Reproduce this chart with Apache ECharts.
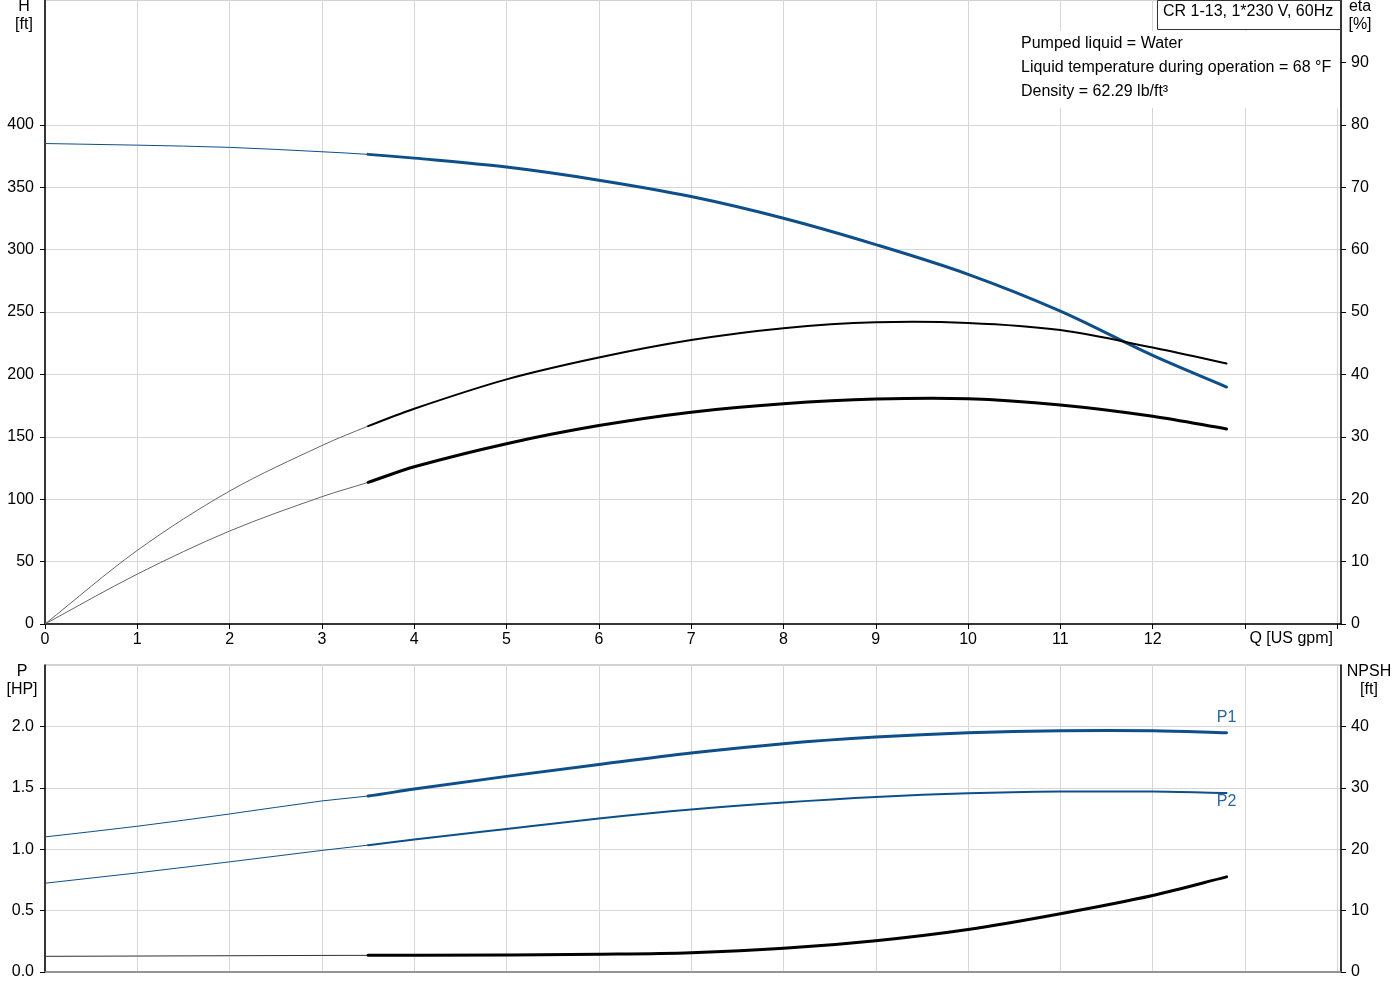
<!DOCTYPE html>
<html><head><meta charset="utf-8">
<script src="https://cdn.jsdelivr.net/npm/echarts@6/dist/echarts.min.js"></script>
<style>html,body{margin:0;padding:0;background:#fff}#c{width:1400px;height:1000px}</style>
</head><body><div id="c"></div>
<script>
// ---- data ----
const qThin  = [0, 1, 2, 3, 3.5];
const qThick = [3.5, 4, 5, 6, 7, 8, 9, 10, 11, 12, 12.8];

const headThin  = [385, 383.7, 381.9, 378.4, 376.3];
const headThick = [376.3, 373.3, 366.1, 355.6, 342.5, 325.1, 304, 280.2, 250.7, 215.2, 189.9];

const etaAThin  = [0, 11.8, 21.3, 28.6, 31.7];
const etaAThick = [31.7, 34.5, 39.2, 42.7, 45.5, 47.4, 48.35, 48.25, 47.1, 44.3, 41.75];

const etaBThin  = [0, 8.0, 14.9, 20.4, 22.7];
const etaBThick = [22.7, 25.2, 28.9, 31.8, 33.95, 35.3, 36.05, 36.1, 35.1, 33.3, 31.25];

const p1Thin  = [1.10, 1.187, 1.287, 1.393, 1.433];
const p1Thick = [1.433, 1.49, 1.593, 1.69, 1.783, 1.859, 1.913, 1.948, 1.965, 1.965, 1.948];

const p2Thin  = [0.723, 0.807, 0.897, 0.99, 1.033];
const p2Thick = [1.033, 1.079, 1.165, 1.25, 1.323, 1.38, 1.425, 1.455, 1.469, 1.469, 1.458];

const npshThin  = [2.55, 2.6, 2.65, 2.7, 2.71];
const npshThick = [2.71, 2.72, 2.78, 2.9, 3.15, 3.85, 5.1, 6.93, 9.5, 12.47, 15.5];

const qLabels    = [0,1,2,3,4,5,6,7,8,9,10,11,12];
const qTicks     = [0,1,2,3,4,5,6,7,8,9,10,11,12,13,14];
const hLabels    = [0,50,100,150,200,250,300,350,400];
const etaLabels  = [0,10,20,30,40,50,60,70,80,90];
const pLabels    = [0,0.5,1,1.5,2];
const npshLabels = [0,10,20,30,40];

const titleText = 'CR 1-13, 1*230 V, 60Hz';
const infoLines = ['Pumped liquid = Water', 'Liquid temperature during operation = 68 °F', 'Density = 62.29 lb/ft³'];

// ---- chart ----
const FONT = '"Liberation Sans", Arial, sans-serif';
const BLUE = '#0d4f8b';
const GRIDC = '#d6d6d6';

// curve drawn as a smooth cubic Hermite spline through the data points, via the axes' scales
function curve(name, thinV, thickV, xi, yi, thinColor, thinW, color, width, label, labelDy) {
  const xs = qThin.concat(qThick.slice(1));
  const ys = thinV.concat(thickV.slice(1));
  const split = qThin.length - 1;
  const data = xs.map((x, i) => [x, ys[i]]);
  const n = xs.length;
  const m = xs.map((x, i) => {
    if (i === 0) return (ys[1] - ys[0]) / (xs[1] - xs[0]);
    if (i === n - 1) return (ys[n - 1] - ys[n - 2]) / (xs[n - 1] - xs[n - 2]);
    return (ys[i + 1] - ys[i - 1]) / (xs[i + 1] - xs[i - 1]);
  });
  return {
    name, type: 'custom', xAxisIndex: xi, yAxisIndex: yi, data, clip: false, silent: true, z: 3,
    encode: { x: 0, y: 1 },
    renderItem: function (params, api) {
      if (params.dataIndex !== 0) return;
      const seg = (a, b) => {
        let d = '';
        for (let i = a; i < b; i++) {
          const dx = xs[i + 1] - xs[i];
          const p0 = api.coord([xs[i], ys[i]]);
          const c1 = api.coord([xs[i] + dx / 3, ys[i] + m[i] * dx / 3]);
          const c2 = api.coord([xs[i + 1] - dx / 3, ys[i + 1] - m[i + 1] * dx / 3]);
          const p3 = api.coord([xs[i + 1], ys[i + 1]]);
          if (i === a) d += 'M' + p0[0] + ' ' + p0[1];
          d += ' C' + c1[0] + ' ' + c1[1] + ' ' + c2[0] + ' ' + c2[1] + ' ' + p3[0] + ' ' + p3[1];
        }
        return d;
      };
      const children = [
        { type: 'path', shape: { pathData: seg(0, split) }, style: { stroke: thinColor, lineWidth: thinW, fill: 'none' } },
        { type: 'path', shape: { pathData: seg(split, n - 1) }, style: { stroke: color, lineWidth: width, fill: 'none', lineCap: 'round' } }
      ];
      if (label) {
        const e = api.coord([xs[n - 1], ys[n - 1]]);
        children.push({ type: 'text', x: e[0], y: e[1] + labelDy,
          style: { text: label, fill: '#2a66a6', font: '16px ' + FONT, textAlign: 'center', textVerticalAlign: 'middle' } });
      }
      return { type: 'group', children };
    }
  };
}

const chart = echarts.init(document.getElementById('c'), null, { renderer: 'canvas' });
const lblStyle = { fontSize: 16, color: '#000', fontFamily: FONT };

chart.setOption({
  animation: false,
  backgroundColor: '#fff',
  grid: [
    { left: 45, top: 0, width: 1296, height: 624, show: true, borderColor: '#a6a6a6', borderWidth: 1 },
    { left: 45, top: 665, width: 1296, height: 307, show: true, borderColor: '#a6a6a6', borderWidth: 1 }
  ],
  xAxis: [
    { gridIndex: 0, type: 'value', min: 0, max: 14.04, interval: 1,
      axisLine: { onZero: false, lineStyle: { color: '#000', width: 1.5 } },
      axisTick: { show: true, length: 5, customValues: qTicks, lineStyle: { color: '#000' } },
      axisLabel: Object.assign({ customValues: qLabels, margin: 8 }, lblStyle),
      splitLine: { show: true, lineStyle: { color: GRIDC, width: 1 } } },
    { gridIndex: 1, type: 'value', min: 0, max: 14.04, interval: 1,
      axisLine: { onZero: false, lineStyle: { color: '#808080', width: 1.5 } },
      axisTick: { show: false }, axisLabel: { show: false },
      splitLine: { show: true, lineStyle: { color: GRIDC, width: 1 } } }
  ],
  yAxis: [
    { gridIndex: 0, type: 'value', min: 0, max: 500, interval: 50, position: 'left',
      axisLine: { show: true, onZero: false, lineStyle: { color: '#000', width: 1.5 } },
      axisTick: { show: true, length: 5, customValues: hLabels, lineStyle: { color: '#000' } },
      axisLabel: Object.assign({ customValues: hLabels, margin: 11 }, lblStyle),
      splitLine: { show: true, lineStyle: { color: GRIDC, width: 1 } } },
    { gridIndex: 0, type: 'value', min: 0, max: 100, interval: 10, position: 'right',
      axisLine: { show: true, onZero: false, lineStyle: { color: '#000', width: 1.5 } },
      axisTick: { show: true, length: 5, customValues: etaLabels, lineStyle: { color: '#000' } },
      axisLabel: Object.assign({ customValues: etaLabels, margin: 10 }, lblStyle),
      splitLine: { show: false } },
    { gridIndex: 1, type: 'value', min: 0, max: 2.5, interval: 0.5, position: 'left',
      axisLine: { show: true, onZero: false, lineStyle: { color: '#000', width: 1.5 } },
      axisTick: { show: true, length: 5, customValues: pLabels, lineStyle: { color: '#000' } },
      axisLabel: Object.assign({ customValues: pLabels, margin: 11, formatter: v => Number(v).toFixed(1) }, lblStyle),
      splitLine: { show: true, lineStyle: { color: GRIDC, width: 1 } } },
    { gridIndex: 1, type: 'value', min: 0, max: 50, interval: 10, position: 'right',
      axisLine: { show: true, onZero: false, lineStyle: { color: '#000', width: 1.5 } },
      axisTick: { show: true, length: 5, customValues: npshLabels, lineStyle: { color: '#000' } },
      axisLabel: Object.assign({ customValues: npshLabels, margin: 10 }, lblStyle),
      splitLine: { show: false } }
  ],
  series: [
    curve('H', headThin, headThick, 0, 0, BLUE, 1, BLUE, 3),
    curve('eta', etaAThin, etaAThick, 0, 1, '#666', 1, '#000', 2),
    curve('eta2', etaBThin, etaBThick, 0, 1, '#666', 1, '#000', 3),
    curve('P1', p1Thin, p1Thick, 1, 2, BLUE, 1, BLUE, 3, 'P1', -15),
    curve('P2', p2Thin, p2Thick, 1, 2, BLUE, 1, BLUE, 2, 'P2', 9),
    curve('NPSH', npshThin, npshThick, 1, 3, '#333', 1, '#000', 3)
  ],
  graphic: [
    { type: 'rect', z: 100, shape: { x: 1013, y: 31, width: 326, height: 77 }, style: { fill: '#fff' } },
    { type: 'rect', z: 101, shape: { x: 1157.5, y: 0.5, width: 183, height: 29 }, style: { fill: '#fff', stroke: '#333', lineWidth: 1 } },
    { type: 'text', z: 102, x: 1163, y: 12, style: { text: titleText, fill: '#000', font: '16px ' + FONT, textVerticalAlign: 'middle' } },
    { type: 'text', z: 102, x: 1021, y: 44, style: { text: infoLines[0], fill: '#000', font: '16px ' + FONT, textVerticalAlign: 'middle' } },
    { type: 'text', z: 102, x: 1021, y: 68, style: { text: infoLines[1], fill: '#000', font: '16px ' + FONT, textVerticalAlign: 'middle' } },
    { type: 'text', z: 102, x: 1021, y: 92, style: { text: infoLines[2], fill: '#000', font: '16px ' + FONT, textVerticalAlign: 'middle' } },
    { type: 'text', z: 102, x: 24, y: 16, style: { text: 'H\n[ft]', fill: '#000', font: '16px ' + FONT, textAlign: 'center', textVerticalAlign: 'middle', lineHeight: 18 } },
    { type: 'text', z: 102, x: 1360, y: 16, style: { text: 'eta\n[%]', fill: '#000', font: '16px ' + FONT, textAlign: 'center', textVerticalAlign: 'middle', lineHeight: 18 } },
    { type: 'text', z: 102, x: 22, y: 681, style: { text: 'P\n[HP]', fill: '#000', font: '16px ' + FONT, textAlign: 'center', textVerticalAlign: 'middle', lineHeight: 18 } },
    { type: 'text', z: 102, x: 1369, y: 681, style: { text: 'NPSH\n[ft]', fill: '#000', font: '16px ' + FONT, textAlign: 'center', textVerticalAlign: 'middle', lineHeight: 18 } },
    { type: 'text', z: 102, x: 1333, y: 639, style: { text: 'Q [US gpm]', fill: '#000', font: '16px ' + FONT, textAlign: 'right', textVerticalAlign: 'middle' } }
  ]
});
</script></body></html>
